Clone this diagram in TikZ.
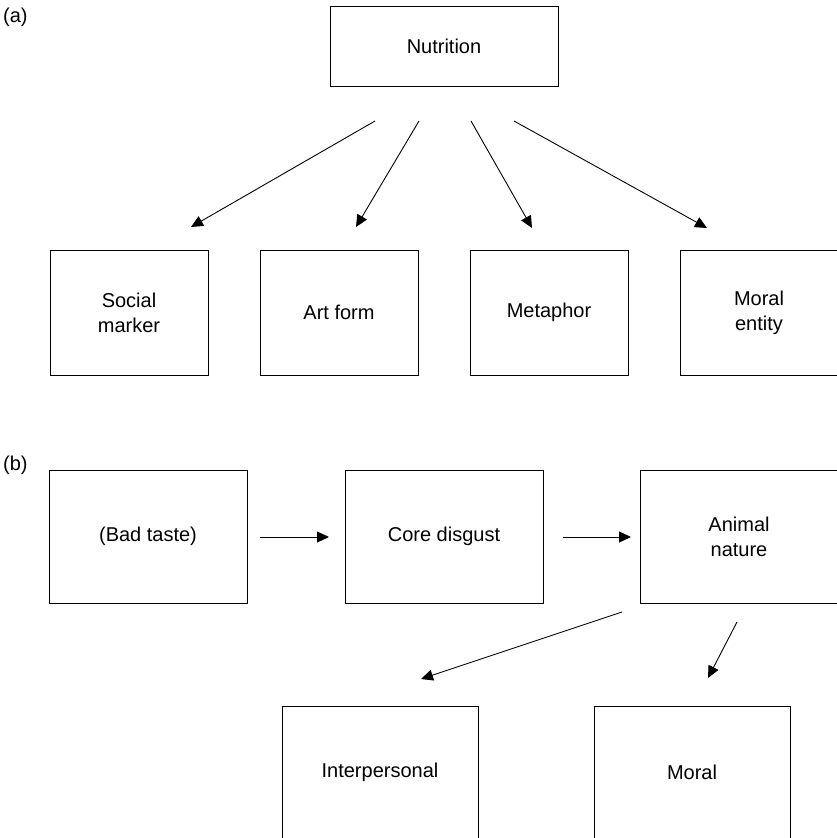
\documentclass[tikz,border=0pt]{standalone}
\usepackage{fontspec}
\setmainfont{Liberation Sans}
\usetikzlibrary{arrows.meta}
\begin{document}
\begin{tikzpicture}[x=1pt,y=-1pt,
  box/.style={draw,line width=0.9pt,inner sep=0pt,align=center,font=\fontsize{20}{25}\selectfont},
  link/.style={line width=0.9pt,-{Triangle[length=12pt,width=11pt]}},
  tag/.style={anchor=west,inner sep=0pt,font=\fontsize{20}{25}\selectfont}]
\useasboundingbox (0,0) rectangle (837,838);

% panel (a)
\node[tag] (la) at (3,17) {(a)};
\node[box,minimum width=228,minimum height=80] (nut) at (444,46) {Nutrition};
\node[box,minimum width=158,minimum height=125] (soc) at (129,312.5) {Social\\marker};
\node[box,minimum width=158,minimum height=125] (art) at (339,312.5) {Art form};
\node[box,minimum width=158,minimum height=125] (met) at (549,312.5) {Metaphor};
\node[box,minimum width=158,minimum height=125] (mor) at (759,312.5) {Moral\\entity};

\coordinate (s1) at (375,121); \coordinate (e1) at (191,227);
\coordinate (s2) at (419,121); \coordinate (e2) at (356,227);
\coordinate (s3) at (471,121); \coordinate (e3) at (532,228);
\coordinate (s4) at (514,121); \coordinate (e4) at (707,228);
\draw[link] (s1) -- (e1);
\draw[link] (s2) -- (e2);
\draw[link] (s3) -- (e3);
\draw[link] (s4) -- (e4);

% panel (b)
\node[tag] (lb) at (3,465) {(b)};
\node[box,minimum width=198,minimum height=133] (bad) at (148,536.5) {(Bad taste)};
\node[box,minimum width=198,minimum height=133] (core) at (444,536.5) {Core disgust};
\node[box,minimum width=198,minimum height=133] (ani) at (739,536.5) {Animal\\nature};
\node[box,minimum width=196,minimum height=133] (inter) at (380,772.5) {Interpersonal};
\node[box,minimum width=196,minimum height=133] (moral) at (692,772.5) {Moral};

\coordinate (t1) at (260,537); \coordinate (u1) at (329,537);
\coordinate (t2) at (563,537); \coordinate (u2) at (631,537);
\coordinate (t3) at (622,612); \coordinate (u3) at (421,679);
\coordinate (t4) at (737,622); \coordinate (u4) at (708,678);
\draw[link] (t1) -- (u1);
\draw[link] (t2) -- (u2);
\draw[link] (t3) -- (u3);
\draw[link] (t4) -- (u4);
\end{tikzpicture}
\end{document}
